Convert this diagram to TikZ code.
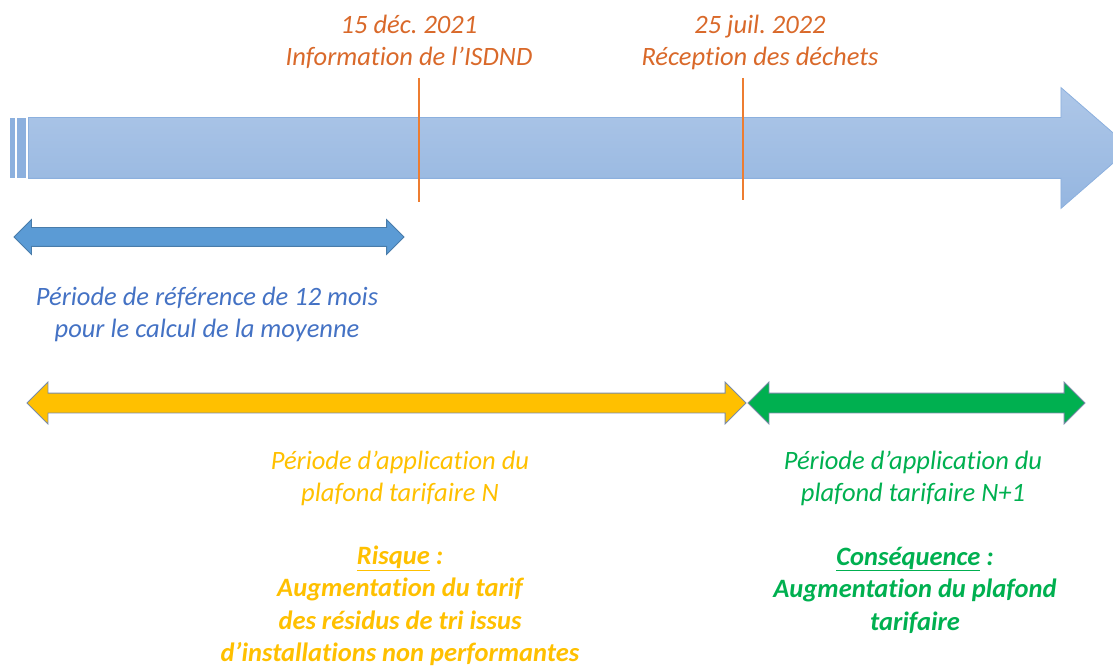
\documentclass[tikz,border=0pt]{standalone}
\usepackage{fontspec}
\setmainfont{Carlito}[Ligatures=NoCommon]
\usetikzlibrary{shapes.arrows}
\frenchspacing

\definecolor{bandtop}{HTML}{AEC7E8}
\definecolor{bandbot}{HTML}{95B6E0}
\definecolor{bandline}{HTML}{8CB0DE}
\definecolor{dateorange}{HTML}{D9692A}
\definecolor{markorange}{HTML}{ED7D31}
\definecolor{refblue}{HTML}{5B9BD5}
\definecolor{reftext}{HTML}{4472C4}
\definecolor{curyellow}{HTML}{FFC000}
\definecolor{nextgreen}{HTML}{00B050}
\definecolor{arrowedge}{HTML}{7A8CA8}

\begin{document}
\begin{tikzpicture}[x=1pt,y=-1pt,
  txt/.style = {font=\fontsize{26.5}{32}\selectfont\itshape, align=center, inner sep=0pt},
  period/.style = {double arrow, inner xsep=0pt, inner ysep=9pt,
    double arrow head extend=8pt, draw=arrowedge, line width=0.8pt}]
\useasboundingbox (0,0) rectangle (1113,668);

% bande du temps
\fill[bandline] (10,118) rectangle (15,178);
\fill[bandline] (17,118) rectangle (26,178);
\node[single arrow, anchor=west, minimum height=1102pt, inner xsep=0pt, inner ysep=30pt,
  single arrow head extend=30pt, single arrow tip angle=82,
  top color=bandtop, bottom color=bandbot,
  draw=bandline, line width=0.8pt] (band) at (28,148) {};

% dates
\draw[markorange, line width=2.5pt] (419,78) -- (419,202);
\draw[markorange, line width=2.5pt] (743,78) -- (743,200);
\node[txt, text=dateorange] (info) at (409,42) {15 déc. 2021\\Information de l’ISDND};
\node[txt, text=dateorange] (recep) at (760,42) {25 juil. 2022\\Réception des déchets};

% periodes
\node[period, fill=refblue, draw=refblue!80!black, minimum height=390pt] (ref) at (209,237) {};
\node[period, fill=curyellow, minimum height=719pt, inner ysep=9.5pt, double arrow head extend=11pt] (cur) at (386.5,403) {};
\node[period, fill=nextgreen, minimum height=337pt, inner ysep=9.5pt, double arrow head extend=11pt] (next) at (916.5,403) {};

\node[txt, text=reftext] (reflab) at (207,314) {Période de référence de 12 mois\\pour le calcul de la moyenne};
\node[txt, text=curyellow] (curlab) at (400,478) {Période d’application du\\plafond tarifaire N};
\node[txt, text=nextgreen] (nextlab) at (913,478) {Période d’application du\\plafond tarifaire N+1};

\node[txt, text=curyellow, font=\fontsize{26.5}{32.5}\selectfont\itshape\bfseries] (risk) at (400,606)
  {\underline{Risque} :\\Augmentation du tarif\\des résidus de tri issus\\d’installations non performantes};
\node[txt, text=nextgreen, font=\fontsize{26.5}{32.5}\selectfont\itshape\bfseries] (cons) at (915,590)
  {\underline{Conséquence} :\\Augmentation du plafond\\tarifaire};
\end{tikzpicture}
\end{document}
